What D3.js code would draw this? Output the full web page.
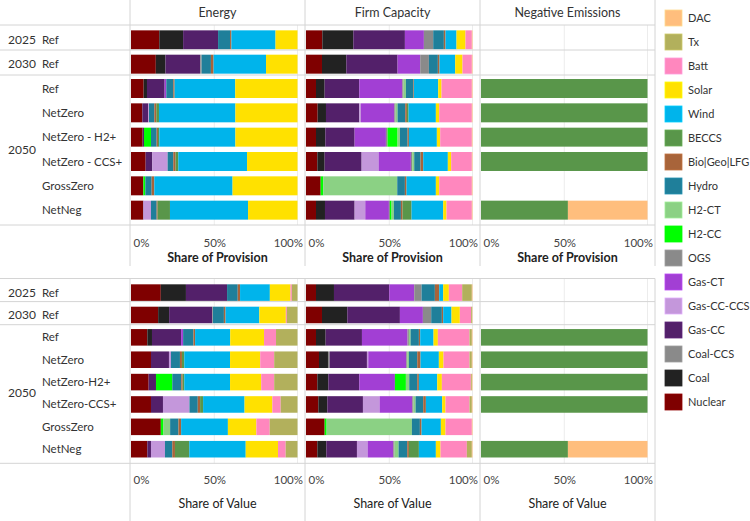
<!DOCTYPE html>
<html>
<head>
<meta charset="utf-8">
<script src="https://cdn.jsdelivr.net/npm/d3@7"></script>
<style>
  body { margin: 0; background: #fff; }
  svg { font-family: Lato, "Open Sans", sans-serif; }
</style>
</head>
<body>
<div id="chart"></div>
<script>
// stack order, left to right (legend lists it reversed)
const techs = ["Nuclear", "Coal", "Coal-CCS", "Gas-CC", "Gas-CC-CCS", "Gas-CT", "OGS", "H2-CC", "H2-CT",
    "Hydro", "Bio|Geo|LFG", "BECCS", "Wind", "Solar", "Batt", "Tx", "DAC"];
const techColors = ["#7f0000", "#222222", "#8a8a8a", "#53206a", "#c497db", "#a23fd4", "#8a8a8a", "#00ff00", "#8bd184",
    "#1f7f9a", "#a8643a", "#59964a", "#00b4eb", "#ffe100", "#ff87be", "#b2b05c", "#ffbe7d"];

const panelNames = ["Energy", "Firm Capacity", "Negative Emissions"];
const rowYears = ["2025", "2030", "2050", "2050", "2050", "2050", "2050", "2050"];
const provScenarios = ["Ref", "Ref", "Ref", "NetZero", "NetZero - H2+", "NetZero - CCS+", "GrossZero", "NetNeg"];
const valueScenarios = ["Ref", "Ref", "Ref", "NetZero", "NetZero-H2+", "NetZero-CCS+", "GrossZero", "NetNeg"];
const tickValues = [0, 50, 100];

// share of provision (%)
const energyProvision = [
    {"Nuclear": 17, "Coal": 14.3, "Gas-CC": 21, "Hydro": 7.2, "Bio|Geo|LFG": 0.8, "Wind": 26.5, "Solar": 13.2},
    {"Nuclear": 14.9, "Coal": 5.8, "Gas-CC": 20.9, "OGS": 0.8, "Hydro": 5.6, "Bio|Geo|LFG": 1.6, "Wind": 31.5, "Solar": 18.9},
    {"Nuclear": 7.6, "Coal": 2, "Gas-CC": 10.6, "Gas-CT": 1, "Hydro": 4.2, "Bio|Geo|LFG": 0.8, "Wind": 36.4, "Solar": 37.4},
    {"Nuclear": 6.8, "Gas-CC": 3.6, "Gas-CC-CCS": 0.4, "Hydro": 3.2, "Bio|Geo|LFG": 1.2, "BECCS": 1.6, "Wind": 45.9, "Solar": 37.3},
    {"Nuclear": 7, "Gas-CC": 0.8, "H2-CC": 4.2, "Hydro": 3.4, "Bio|Geo|LFG": 0.8, "BECCS": 0.8, "Wind": 45.7, "Solar": 37.3},
    {"Nuclear": 8.8, "Gas-CC": 4, "Gas-CC-CCS": 9.2, "Hydro": 3.4, "Bio|Geo|LFG": 1.4, "BECCS": 1.6, "Wind": 41.3, "Solar": 30.3},
    {"Nuclear": 7.4, "H2-CC": 1.2, "Hydro": 3.8, "Bio|Geo|LFG": 1.6, "Wind": 47, "Solar": 39},
    {"Nuclear": 7.2, "Gas-CC": 0.3, "Gas-CC-CCS": 4.5, "Hydro": 3.4, "Bio|Geo|LFG": 0.6, "BECCS": 7.4, "Wind": 46.9, "Solar": 29.7}
];
const firmProvision = [
    {"Nuclear": 9.8, "Coal": 18.6, "Gas-CC": 31, "Gas-CT": 11.4, "OGS": 5.6, "Hydro": 6.4, "Bio|Geo|LFG": 1, "Wind": 6.6, "Solar": 5.4, "Batt": 3.8, "DAC": 0.4},
    {"Nuclear": 9.6, "Coal": 14.6, "Gas-CC": 30.8, "Gas-CT": 13.6, "OGS": 5.2, "Hydro": 5.4, "Bio|Geo|LFG": 1, "Wind": 9.4, "Solar": 4.4, "Batt": 5.6, "DAC": 0.4},
    {"Nuclear": 6, "Coal": 5.2, "Gas-CC": 20.8, "Gas-CT": 25.8, "OGS": 0.8, "H2-CT": 1.4, "Hydro": 4.4, "Bio|Geo|LFG": 0.4, "Wind": 14.6, "Solar": 2, "Batt": 18.2, "DAC": 0.4},
    {"Nuclear": 7, "Coal": 5, "Gas-CC": 20, "Gas-CC-CCS": 1, "Gas-CT": 20, "OGS": 0.8, "H2-CT": 1.2, "Hydro": 4.6, "Bio|Geo|LFG": 1, "BECCS": 1, "Wind": 16.4, "Solar": 2, "Batt": 19.6, "DAC": 0.4},
    {"Nuclear": 6, "Coal": 5.6, "Gas-CC": 17.6, "Gas-CT": 18.8, "OGS": 1, "H2-CC": 6, "H2-CT": 1.4, "Hydro": 4.6, "Bio|Geo|LFG": 0.8, "Wind": 16.8, "Solar": 2, "Batt": 19, "DAC": 0.4},
    {"Nuclear": 6.8, "Coal": 4.4, "Gas-CC": 22.2, "Gas-CC-CCS": 10.2, "Gas-CT": 19.4, "OGS": 0.8, "H2-CT": 1.2, "Hydro": 3.8, "Bio|Geo|LFG": 1.6, "Wind": 14.8, "Solar": 2, "Batt": 12.4, "DAC": 0.4},
    {"Nuclear": 8.8, "H2-CC": 1.6, "H2-CT": 44.4, "Hydro": 4.6, "Bio|Geo|LFG": 1, "Wind": 17.6, "Solar": 2, "Batt": 19.6, "DAC": 0.4},
    {"Nuclear": 6, "Coal": 5.4, "Gas-CC": 17.8, "Gas-CC-CCS": 6.4, "Gas-CT": 14.2, "OGS": 0.6, "H2-CC": 1, "H2-CT": 1.4, "Hydro": 4.2, "Bio|Geo|LFG": 1, "BECCS": 5.4, "Wind": 19, "Solar": 2, "Batt": 15.2, "DAC": 0.4}
];
const negProvision = [
    {}, {},
    {"BECCS": 100}, {"BECCS": 100}, {"BECCS": 100}, {"BECCS": 100},
    {},
    {"BECCS": 52.2, "DAC": 47.8}
];

// share of value (%)
const energyValue = [
    {"Nuclear": 17.9, "Coal": 15.1, "Gas-CC": 24.7, "Hydro": 6.4, "Bio|Geo|LFG": 1.4, "Wind": 17.9, "Solar": 12.4, "Batt": 0.8, "Tx": 3.4},
    {"Nuclear": 16.3, "Coal": 6.6, "Gas-CC": 25.9, "OGS": 0.4, "Hydro": 6.6, "Bio|Geo|LFG": 1, "Wind": 20.3, "Solar": 15.9, "Batt": 0.6, "Tx": 6.4},
    {"Nuclear": 9.8, "Coal": 2.8, "Gas-CC": 17.5, "Gas-CT": 1.2, "Hydro": 6.2, "Bio|Geo|LFG": 1, "Wind": 21.1, "Solar": 20.3, "Batt": 7.2, "Tx": 12.9},
    {"Nuclear": 12, "Gas-CC": 10.8, "Gas-CC-CCS": 1.2, "Hydro": 5.4, "Bio|Geo|LFG": 1.2, "BECCS": 1.4, "Wind": 27.5, "Solar": 18.1, "Batt": 8.4, "Tx": 14},
    {"Nuclear": 10.6, "Gas-CC": 4.4, "H2-CC": 9.8, "Hydro": 5.4, "Bio|Geo|LFG": 0.8, "BECCS": 1, "Wind": 27.5, "Solar": 18.7, "Batt": 7.8, "Tx": 14},
    {"Nuclear": 12, "Gas-CC": 7.2, "Gas-CC-CCS": 15.9, "Hydro": 5, "Bio|Geo|LFG": 1.4, "BECCS": 1.8, "Wind": 24.9, "Solar": 16.7, "Batt": 5, "Tx": 10.1},
    {"Nuclear": 17.9, "H2-CC": 1.6, "H2-CT": 4, "Hydro": 5, "Bio|Geo|LFG": 1.6, "Wind": 28.1, "Solar": 17.1, "Batt": 8, "Tx": 16.7},
    {"Nuclear": 9.8, "Gas-CC": 2.2, "Gas-CC-CCS": 8.4, "Hydro": 4.4, "Bio|Geo|LFG": 1.6, "BECCS": 8.6, "Wind": 33.9, "Solar": 19.4, "Batt": 4.6, "Tx": 7.1}
];
const firmValue = [
    {"Nuclear": 6, "Coal": 10.8, "Gas-CC": 33.2, "Gas-CT": 15, "OGS": 4.4, "Hydro": 8, "Bio|Geo|LFG": 2.6, "Wind": 2.4, "Solar": 3.4, "Batt": 8, "Tx": 5.8, "DAC": 0.4},
    {"Nuclear": 9.6, "Coal": 15.2, "Gas-CC": 31.6, "Gas-CT": 13.8, "OGS": 5, "Hydro": 6.4, "Bio|Geo|LFG": 0.8, "Wind": 5, "Solar": 5, "Batt": 6.8, "Tx": 0.6, "DAC": 0.2},
    {"Nuclear": 6, "Coal": 5.8, "Gas-CC": 21.8, "Gas-CT": 27.4, "OGS": 0.8, "H2-CT": 1, "Hydro": 5, "Bio|Geo|LFG": 0.8, "Wind": 8, "Solar": 2.6, "Batt": 19, "Tx": 1.4, "DAC": 0.4},
    {"Nuclear": 7.8, "Coal": 5.4, "Coal-CCS": 1, "Gas-CC": 22.4, "Gas-CC-CCS": 0.8, "Gas-CT": 22.8, "OGS": 0.6, "H2-CT": 1, "Hydro": 5, "Bio|Geo|LFG": 2, "Wind": 11, "Solar": 2.8, "Batt": 15.6, "Tx": 1.4, "DAC": 0.4},
    {"Nuclear": 6.8, "Coal": 6.6, "Gas-CC": 18.6, "Gas-CT": 21.4, "H2-CC": 6.6, "H2-CT": 2, "Hydro": 4.8, "Bio|Geo|LFG": 1, "Wind": 11, "Solar": 2.8, "Batt": 17.4, "Tx": 0.6, "DAC": 0.4},
    {"Nuclear": 7.4, "Coal": 5.4, "Gas-CC": 21.4, "Gas-CC-CCS": 10, "Gas-CT": 19.6, "OGS": 0.8, "H2-CT": 1.2, "Hydro": 4.6, "Bio|Geo|LFG": 1.6, "Wind": 9.8, "Solar": 2, "Batt": 14.4, "Tx": 1.4, "DAC": 0.4},
    {"Nuclear": 11.2, "H2-CC": 1.2, "H2-CT": 51.2, "Hydro": 4.8, "Bio|Geo|LFG": 1, "Wind": 11.6, "Solar": 2.8, "Batt": 15.8, "DAC": 0.4},
    {"Nuclear": 6.8, "Coal": 5.4, "Gas-CC": 18.4, "Gas-CC-CCS": 6.4, "Gas-CT": 15.4, "OGS": 0.8, "H2-CT": 2.4, "Hydro": 5.2, "Bio|Geo|LFG": 1, "BECCS": 6, "Wind": 10.2, "Solar": 2.8, "Batt": 15.8, "Tx": 3, "DAC": 0.4}
];
const negValue = [
    {}, {},
    {"BECCS": 100}, {"BECCS": 100}, {"BECCS": 100}, {"BECCS": 100},
    {},
    {"BECCS": 52.2, "DAC": 47.8}
];

const width = 750, height = 521;
const lineColor = "#d4d4d4", gridColor = "#ececec", textColor = "#333";
const labelSize = 11.5;

const svg = d3.select("#chart").append("svg")
    .attr("width", width)
    .attr("height", height);

const color = d3.scaleOrdinal().domain(techs).range(techColors);
const paneLeft = [130, 305, 480];
const paneW = 175;
const tableRight = 655;

const stack = d3.stack().keys(techs).value((d, k) => d[k] || 0);

function drawBlock(opts) {
    const g = svg.append("g");
    const rowsBottom = opts.top + opts.rowH * rowYears.length;

    const y = d3.scaleBand()
        .domain(d3.range(rowYears.length))
        .range([opts.top, rowsBottom])
        .padding(opts.pad);

    // row labels
    const yearGroups = [{t: "2025", a: 0, b: 0}, {t: "2030", a: 1, b: 1}, {t: "2050", a: 2, b: 7}];
    g.selectAll(".year").data(yearGroups).enter().append("text")
        .attr("x", 8)
        .attr("y", d => (y(d.a) + y(d.b) + y.bandwidth()) / 2)
        .attr("dy", "0.35em")
        .attr("font-size", 12)
        .attr("fill", textColor)
        .text(d => d.t);

    g.selectAll(".scen").data(opts.scenarios).enter().append("text")
        .attr("x", 42)
        .attr("y", (d, i) => y(i) + y.bandwidth() / 2)
        .attr("dy", "0.35em")
        .attr("font-size", labelSize)
        .attr("fill", textColor)
        .text(d => d);

    opts.panels.forEach((rows, p) => {
        const left = paneLeft[p];
        const x = d3.scaleLinear().domain([0, 100]).range([left + 1, left + 167.5]);

        // grid
        g.selectAll(null).data([50, 100]).enter().append("line")
            .attr("x1", d => x(d)).attr("x2", d => x(d))
            .attr("y1", opts.top).attr("y2", rowsBottom)
            .attr("stroke", gridColor);

        const series = stack(rows);
        g.append("g").selectAll("g").data(series).enter().append("g")
            .attr("fill", d => color(d.key))
            .selectAll("rect").data(d => d).enter().append("rect")
            .attr("x", d => x(d[0]))
            .attr("width", d => Math.max(0, x(d[1]) - x(d[0])))
            .attr("y", (d, i) => y(i))
            .attr("height", y.bandwidth());

        // axis
        const ax = g.append("g")
            .attr("transform", `translate(0,${opts.tickY})`)
            .call(d3.axisBottom(x).tickValues(tickValues).tickSize(0).tickFormat(d => d + "%"));
        ax.select(".domain").remove();
        ax.selectAll("text")
            .attr("y", 0)
            .attr("dy", "0.35em")
            .attr("font-family", "Lato, sans-serif")
            .attr("font-size", labelSize)
            .attr("fill", "#444")
            .attr("text-anchor", d => d === 0 ? "start" : d === 100 ? "end" : "middle")
            .attr("dx", d => d === 0 ? 2 : d === 100 ? (left + paneW - 2.5 - x(100)) : 0);

        g.append("text")
            .attr("x", left + paneW / 2)
            .attr("y", opts.titleY)
            .attr("dy", "0.35em")
            .attr("text-anchor", "middle")
            .attr("font-size", 12.5)
            .attr("font-weight", opts.titleWeight)
            .attr("fill", "#222")
            .text(opts.title);
    });

    // horizontal separators
    g.selectAll(".hl").data([opts.top, opts.top + opts.rowH, opts.top + 2 * opts.rowH, rowsBottom])
        .enter().append("line")
        .attr("x1", 0).attr("x2", tableRight)
        .attr("y1", d => d).attr("y2", d => d)
        .attr("stroke", lineColor);

    // vertical separators
    g.selectAll(".vl").data(paneLeft.concat([tableRight])).enter().append("line")
        .attr("x1", d => d).attr("x2", d => d)
        .attr("y1", opts.blockTop).attr("y2", opts.blockBottom)
        .attr("stroke", lineColor);
}

// panel headers
svg.selectAll(".hdr").data(panelNames).enter().append("text")
    .attr("x", (d, i) => paneLeft[i] + paneW / 2)
    .attr("y", 13)
    .attr("dy", "0.35em")
    .attr("text-anchor", "middle")
    .attr("font-size", 12.5)
    .attr("fill", textColor)
    .text(d => d);

drawBlock({
    top: 25, rowH: 25, pad: 0.22, blockTop: 0, blockBottom: 266,
    scenarios: provScenarios, panels: [energyProvision, firmProvision, negProvision],
    tickY: 243, titleY: 258, title: "Share of Provision", titleWeight: "bold"
});

drawBlock({
    top: 278.5, rowH: 23.1, pad: 0.26, blockTop: 278.5, blockBottom: 521,
    scenarios: valueScenarios, panels: [energyValue, firmValue, negValue],
    tickY: 480, titleY: 504, title: "Share of Value", titleWeight: "normal"
});

// legend
const legend = svg.append("g").attr("transform", "translate(665,10)");
const legendItems = techs.slice().reverse();
const li = legend.selectAll("g").data(legendItems).enter().append("g")
    .attr("transform", (d, i) => `translate(0,${i * 24})`);
li.append("rect")
    .attr("width", 17).attr("height", 16)
    .attr("fill", d => color(d))
    .attr("stroke", d => d3.color(color(d)).brighter(0.4))
    .attr("stroke-width", 0.8);
li.append("text")
    .attr("x", 23).attr("y", 8)
    .attr("dy", "0.35em")
    .attr("font-size", 11)
    .attr("fill", textColor)
    .text(d => d);
</script>
</body>
</html>
